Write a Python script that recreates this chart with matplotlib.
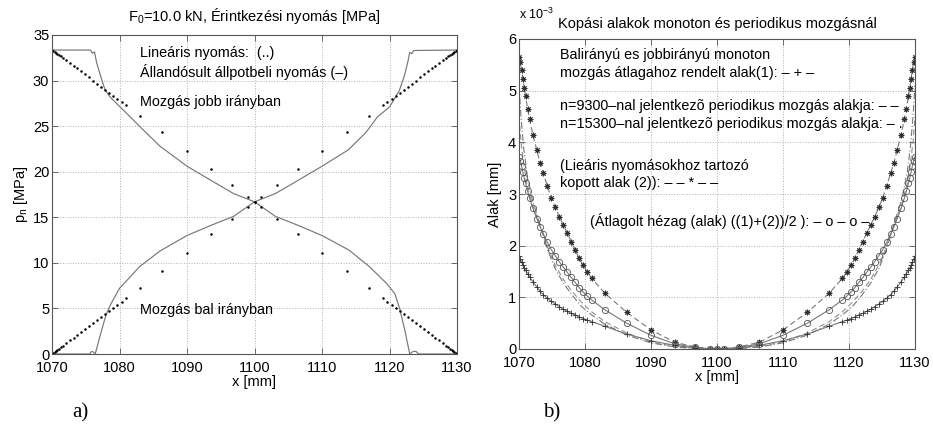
import matplotlib
matplotlib.use('Agg')
import matplotlib.pyplot as plt
import numpy as np

plt.rcParams['font.family'] = ['Liberation Sans', 'DejaVu Sans']
plt.rcParams['mathtext.fontset'] = 'custom'
plt.rcParams['mathtext.rm'] = 'Liberation Sans'
plt.rcParams['mathtext.it'] = 'Liberation Sans:italic'

# mesh nodes [mm] (same for both panels)
x_nodes = [1070.0, 1070.2, 1070.4, 1070.6, 1070.8, 1071.0, 1071.3, 1071.6, 1072.1, 1072.7,
           1073.2, 1073.7, 1074.3, 1074.9, 1075.5, 1076.1, 1076.7, 1077.3, 1077.9, 1078.5,
           1079.1, 1079.7, 1080.3, 1081.0, 1083.0, 1086.3, 1090.0, 1093.6, 1096.7, 1099.0,
           1100.0,
           1101.0, 1103.3, 1106.4, 1110.0, 1113.7, 1117.0, 1119.0, 1119.7, 1120.3, 1120.9,
           1121.5, 1122.1, 1122.7, 1123.3, 1123.9, 1124.5, 1125.1, 1125.7, 1126.3, 1126.8,
           1127.3, 1127.9, 1128.4, 1128.7, 1129.0, 1129.2, 1129.4, 1129.6, 1129.8, 1130.0]

# a) linear pressure [MPa] (dots)
p_lin_down = [33.40, 33.29, 33.18, 33.07, 32.95, 32.84, 32.68, 32.51, 32.23, 31.90,
              31.62, 31.34, 31.01, 30.67, 30.34, 30.00, 29.67, 29.34, 29.00, 28.67,
              28.33, 28.00, 27.67, 27.28, 26.16, 24.33, 22.27, 20.26, 18.54, 17.26,
              16.70,
              16.14, 14.86, 13.14, 11.13, 9.07, 7.24, 6.12, 5.73, 5.40, 5.07,
              4.73, 4.40, 4.06, 3.73, 3.40, 3.06, 2.73, 2.39, 2.06, 1.78,
              1.50, 1.17, 0.89, 0.72, 0.56, 0.45, 0.33, 0.22, 0.11, 0.00]
p_lin_up = p_lin_down[::-1]

# a) steady state pressure, movement to the right (solid)
x_jobb = [1070.0, 1075.7, 1076.0, 1076.3, 1076.6, 1077.2, 1077.85, 1078.6, 1080.1, 1081.6,
          1083.5, 1086.0, 1090.0, 1093.9, 1096.9, 1100.0, 1103.1, 1106.5, 1110.0, 1114.0,
          1117.0, 1119.5, 1120.8, 1121.5, 1122.3, 1123.0, 1123.4, 1123.9, 1124.3, 1130.0]
p_jobb = [33.35, 33.35, 33.0, 33.15, 32.0, 30.5, 29.0, 28.2, 27.1, 26.0,
          24.6, 22.8, 20.6, 18.9, 17.6, 16.7, 15.1, 14.1, 13.0, 11.4,
          9.6, 7.8, 6.6, 5.0, 2.5, 0.0, 0.25, 0.3, 0.0, 0.0]
# a) steady state pressure, movement to the left (solid)
x_bal = [1070.0, 1075.6, 1075.8, 1076.1, 1076.4, 1077.2, 1078.0, 1078.8, 1080.0, 1083.0,
         1086.0, 1090.0, 1093.5, 1096.9, 1100.0, 1103.1, 1106.1, 1110.0, 1113.9, 1116.5,
         1118.2, 1120.0, 1120.9, 1121.5, 1122.2, 1122.7, 1123.0, 1123.3, 1123.6, 1130.0]
p_bal = [0.0, 0.0, 0.25, 0.25, 0.0, 2.2, 4.3, 5.6, 7.2, 9.6,
         11.3, 13.0, 14.1, 15.1, 16.7, 17.6, 18.9, 20.6, 22.4, 24.3,
         26.0, 27.1, 28.2, 29.0, 30.5, 32.0, 33.1, 32.95, 33.3, 33.35]

# b) wear shapes [1e-3 mm]
alak1 = [1.80, 1.74, 1.68, 1.62, 1.57, 1.52, 1.46, 1.40, 1.30, 1.20,
         1.12, 1.05, 0.98, 0.92, 0.87, 0.82, 0.77, 0.73, 0.69, 0.66,
         0.62, 0.59, 0.56, 0.53, 0.44, 0.29, 0.16, 0.07, 0.02, 0.00,
         0.00,
         0.00, 0.02, 0.07, 0.16, 0.29, 0.44, 0.53, 0.56, 0.59, 0.62,
         0.66, 0.69, 0.73, 0.77, 0.82, 0.87, 0.92, 0.98, 1.05, 1.12,
         1.20, 1.30, 1.40, 1.46, 1.52, 1.57, 1.62, 1.68, 1.74, 1.80]
alak2 = [5.65, 5.55, 5.40, 5.22, 5.05, 4.90, 4.65, 4.45, 4.15, 3.85,
         3.60, 3.40, 3.15, 2.92, 2.74, 2.56, 2.40, 2.25, 2.08, 1.92,
         1.76, 1.62, 1.50, 1.37, 1.08, 0.71, 0.37, 0.13, 0.04, 0.005,
         0.00,
         0.005, 0.04, 0.13, 0.37, 0.71, 1.08, 1.37, 1.50, 1.62, 1.76,
         1.92, 2.08, 2.25, 2.40, 2.56, 2.74, 2.92, 3.15, 3.40, 3.60,
         3.85, 4.15, 4.45, 4.65, 4.90, 5.05, 5.22, 5.40, 5.55, 5.65]
alak_avg = (np.array(alak1) + np.array(alak2)) / 2  # ((1)+(2))/2

x_per = [1070.0, 1070.3, 1070.7, 1071.2, 1072.0, 1073.2, 1074.4, 1075.5, 1076.7, 1078.0,
         1079.5, 1081.0, 1083.0, 1086.5, 1090.0, 1093.5, 1096.5, 1100.0, 1103.5, 1106.5,
         1110.0, 1113.5, 1117.0, 1119.0, 1120.5, 1122.0, 1123.3, 1124.5, 1125.6, 1126.8,
         1128.0, 1128.8, 1129.3, 1129.7, 1130.0]
n9300 = [4.5, 4.0, 3.6, 3.2, 2.8, 2.4, 1.95, 1.62, 1.35, 1.12,
         0.90, 0.72, 0.53, 0.30, 0.14, 0.05, 0.015, 0.0, 0.015, 0.05,
         0.14, 0.30, 0.53, 0.72, 0.90, 1.12, 1.35, 1.62, 1.95, 2.4,
         2.8, 3.2, 3.6, 4.0, 4.5]
n15300 = [5.1, 4.5, 3.9, 3.4, 2.9, 2.4, 1.9, 1.55, 1.28, 1.05,
          0.82, 0.66, 0.48, 0.26, 0.12, 0.04, 0.01, 0.0, 0.01, 0.04,
          0.12, 0.26, 0.48, 0.66, 0.82, 1.05, 1.28, 1.55, 1.9, 2.4,
          2.9, 3.4, 3.9, 4.5, 5.1]

line_c = '#777777'
mark_c = '#303030'
fs = 10.4
tfs = 10.5


def style_axes(ax):
    ax.set_xlim(1070, 1130)
    ax.set_xticks([1070, 1080, 1090, 1100, 1110, 1120, 1130])
    ax.grid(True, linestyle=':', color='#b0b0b0', linewidth=0.7)
    ax.tick_params(direction='in', top=True, right=True, labelsize=tfs,
                   length=4, color='#555555', width=0.6)
    ax.tick_params(axis='y', pad=2)
    ax.tick_params(axis='x', pad=5)
    for s in ax.spines.values():
        s.set_color('#555555')
        s.set_linewidth(0.8)


fig = plt.figure(figsize=(9.33, 4.29), dpi=100)

# ---- a) ----
ax1 = fig.add_axes([52/933, 1-354/429, 405/933, 319/429])
ax1.plot(x_jobb, p_jobb, color=line_c, lw=0.85)
ax1.plot(x_bal, p_bal, color=line_c, lw=0.85)
ax1.plot(x_nodes, p_lin_down, '.', color='black', ms=1.6)
ax1.plot(x_nodes, p_lin_up, '.', color='black', ms=1.6)
style_axes(ax1)
ax1.set_ylim(0, 35)
ax1.set_yticks([0, 5, 10, 15, 20, 25, 30, 35])
ax1.set_xlabel('x [mm]', fontsize=tfs, labelpad=0)
ax1.set_ylabel('p$_{\\mathrm{n}}$ [MPa]', fontsize=tfs, labelpad=2)
ax1.set_title('F$_{\\mathrm{0}}$=10.0 kN, Érintkezési nyomás [MPa]', fontsize=tfs, pad=10)
ax1.text(1083.0, 32.6, 'Lineáris nyomás:  (..)', fontsize=fs, va='baseline')
ax1.text(1083.0, 30.36, 'Állandósult állpotbeli nyomás (–)', fontsize=fs, va='baseline')
ax1.text(1083.0, 27.2, 'Mozgás jobb irányban', fontsize=fs, va='baseline')
ax1.text(1083.0, 4.39, 'Mozgás bal irányban', fontsize=fs, va='baseline')

# ---- b) ----
ax2 = fig.add_axes([519/933, 1-349/429, 396/933, 310/429])
ax2.plot(x_per, n9300, color='#909090', lw=0.8, ls=(0, (5, 3)))
ax2.plot(x_per, n15300, color=line_c, lw=0.8, ls=(0, (6, 2, 1, 2)))
ax2.plot(x_nodes, alak1, color=line_c, lw=0.8, marker='+', ms=4,
         mec=mark_c, mew=0.6)
ax2.plot(x_nodes, alak2, color=line_c, lw=0.8, ls=(0, (5, 3)),
         marker=(8, 2, 0), ms=4, mec=mark_c, mew=0.7)
ax2.plot(x_nodes, alak_avg, color=line_c, lw=0.8, marker='o', ms=4.5,
         mfc='none', mec='#555555', mew=0.6)
style_axes(ax2)
ax2.set_ylim(0, 6)
ax2.set_yticks([0, 1, 2, 3, 4, 5, 6])
ax2.set_xlabel('x [mm]', fontsize=tfs, labelpad=0)
ax2.set_ylabel('Alak [mm]', fontsize=tfs, labelpad=4)
ax2.set_title('Kopási alakok monoton és periodikus mozgásnál', fontsize=tfs, pad=8)
ax2.text(0.0, 1.08, 'x 10$^{-3}$', fontsize=9, transform=ax2.transAxes,
         ha='left', va='center')
tx = 1076.2
ax2.text(tx, 5.61, 'Balirányú es jobbirányú monoton', fontsize=fs, va='baseline')
ax2.text(tx, 5.26, 'mozgás átlagahoz rendelt alak(1): – + –', fontsize=fs, va='baseline')
ax2.text(tx, 4.63, 'n=9300–nal jelentkezõ periodikus mozgás alakja: – –', fontsize=fs, va='baseline')
ax2.text(tx, 4.28, 'n=15300–nal jelentkezõ periodikus mozgás alakja: – .', fontsize=fs, va='baseline')
ax2.text(tx, 3.46, '(Lieáris nyomásokhoz tartozó', fontsize=fs, va='baseline')
ax2.text(tx, 3.13, 'kopott alak (2)): – – * – –', fontsize=fs, va='baseline')
ax2.text(1080.8, 2.38, '(Átlagolt hézag (alak) ((1)+(2))/2 ): – o – o –', fontsize=fs, va='baseline')

fig.text(72/933, 1-413/429, 'a)', family='Liberation Serif', fontsize=15, va='center')
fig.text(543/933, 1-413/429, 'b)', family='Liberation Serif', fontsize=15, va='center')

fig.savefig('out.png', dpi=100)
